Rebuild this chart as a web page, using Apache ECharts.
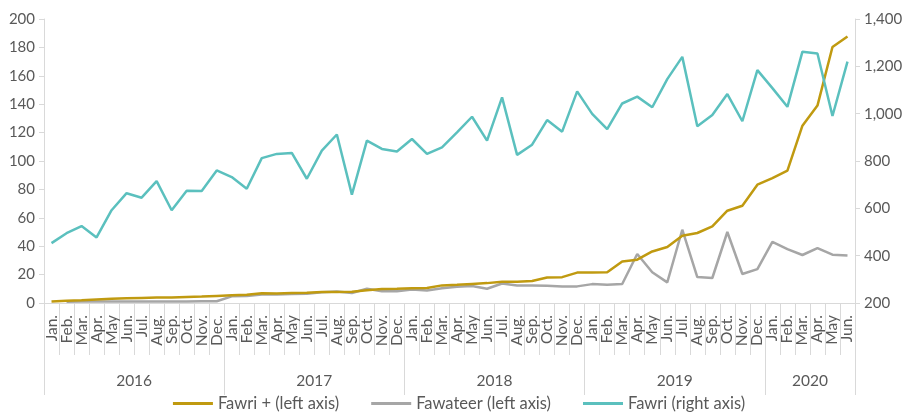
<!DOCTYPE html>
<html>
<head>
<meta charset="utf-8">
<script src="https://cdn.jsdelivr.net/npm/echarts@6/dist/echarts.min.js"></script>
<style>
  html, body { margin: 0; padding: 0; background: #fff; }
  #chart { width: 918px; height: 417px; }
</style>
</head>
<body>
<div id="chart"></div>
<script>
// months Jan 2016 .. Jun 2020
const monthNames = ['Jan.', 'Feb.', 'Mar.', 'Apr.', 'May', 'Jun.', 'Jul.', 'Aug.', 'Sep.', 'Oct.', 'Nov.', 'Dec.'];
const years = ['2016', '2017', '2018', '2019', '2020'];
const months = [];
for (let y = 0; y < years.length; y++) {
    const n = y === years.length - 1 ? 6 : 12;
    for (let m = 0; m < n; m++) months.push(monthNames[m]);
}

// Fawri + (left axis)
const fawriPlus = [
    1.0, 1.6, 2.0, 2.5, 3.0, 3.3, 3.6, 3.9, 3.8, 4.2, 4.5, 5.0,
    5.5, 5.8, 6.8, 6.7, 7.0, 7.3, 7.7, 7.8, 8.0, 9.0, 9.8, 10.0,
    10.3, 10.5, 12.4, 12.8, 13.4, 14.0, 15.0, 15.0, 15.5, 18.0, 18.2, 21.4,
    21.5, 21.6, 29.3, 30.5, 36.3, 39.4, 47.4, 49.3, 54.0, 65.0, 68.5, 83.3,
    88.0, 93.2, 124.9, 139.0, 180.3, 187.7
];

// Fawateer (left axis), starts Feb 2016
const fawateer = [
    null, 0.9, 1.0, 1.0, 1.0, 1.0, 1.0, 1.0, 1.0, 1.1, 1.2, 1.2,
    4.7, 5.0, 6.0, 6.0, 6.3, 6.5, 7.6, 8.1, 7.0, 10.0, 8.3, 8.3,
    9.5, 8.8, 10.4, 11.4, 11.9, 10.0, 13.7, 12.4, 12.4, 12.2, 11.7, 11.7,
    13.3, 12.9, 13.4, 34.5, 21.6, 14.5, 51.6, 18.3, 17.6, 50.0, 20.4, 23.9,
    43.0, 38.0, 33.8, 38.7, 34.0, 33.5
];

// Fawri (right axis)
const fawri = [
    453, 495, 525, 477, 592, 664, 645, 715, 592, 674, 673, 760,
    732, 683, 812, 830, 834, 725, 844, 912, 658, 886, 851, 840,
    893, 830, 858, 921, 987, 886, 1069, 826, 869, 973, 924, 1094,
    999, 935, 1043, 1072, 1027, 1146, 1240, 947, 994, 1083, 968, 1184,
    1108, 1029, 1262, 1254, 990, 1220
];

// year label sits on the middle month of each year block
const yearLabelIndex = { 6: '2016', 18: '2017', 30: '2018', 42: '2019', 51: '2020' };

const textColor = '#595959';
const lineColor = '#D9D9D9';
const font = 'Lato';

let myChart = echarts.init(document.getElementById('chart'));
let option = {
    backgroundColor: '#fff',
    animation: false,
    textStyle: { fontFamily: font },
    grid: { left: 44, right: 63, top: 19, bottom: 114, containLabel: false },
    legend: {
        bottom: 0,
        left: 'center',
        itemGap: 32,
        itemWidth: 40,
        itemHeight: 3,
        icon: 'rect',
        textStyle: { color: textColor, fontSize: 16.5, fontFamily: font },
        data: ['Fawri + (left axis)', 'Fawateer (left axis)', 'Fawri (right axis)']
    },
    xAxis: [{
        type: 'category',
        data: months,
        boundaryGap: true,
        axisLine: { lineStyle: { color: lineColor } },
        axisTick: { show: true, interval: 0, length: 52, lineStyle: { color: lineColor } },
        axisLabel: { interval: 0, rotate: 90, margin: 12, color: textColor, fontSize: 15.5, fontFamily: font }
    }, {
        type: 'category',
        data: months,
        position: 'bottom',
        boundaryGap: true,
        axisLine: { show: false },
        axisTick: {
            show: true,
            length: 92,
            interval: function (i) { return i % 12 === 0 || i === months.length; },
            lineStyle: { color: lineColor }
        },
        axisLabel: {
            interval: function (i) { return yearLabelIndex[i] !== undefined; },
            margin: 70,
            color: textColor,
            fontSize: 15.5,
            fontFamily: font,
            formatter: function (v, i) { return '{y|' + (yearLabelIndex[i] || '') + '}'; },
            rich: { y: { padding: [0, 15, 0, 0], color: textColor, fontSize: 15.5, fontFamily: font } }
        }
    }],
    yAxis: [{
        type: 'value',
        min: 0,
        max: 200,
        interval: 20,
        axisLine: { show: true, lineStyle: { color: lineColor } },
        axisTick: { show: true, length: 5, lineStyle: { color: lineColor } },
        splitLine: { show: false },
        axisLabel: { color: textColor, fontSize: 15, fontFamily: font, margin: 9 }
    }, {
        type: 'value',
        min: 200,
        max: 1400,
        interval: 200,
        position: 'right',
        axisLine: { show: true, lineStyle: { color: lineColor } },
        axisTick: { show: true, length: 5, lineStyle: { color: lineColor } },
        splitLine: { show: false },
        axisLabel: {
            color: textColor, fontSize: 15, fontFamily: font, margin: 9,
            formatter: function (v) { return v.toLocaleString('en-US'); }
        }
    }],
    series: [{
        name: 'Fawri + (left axis)',
        type: 'line',
        yAxisIndex: 0,
        data: fawriPlus,
        symbol: 'none',
        z: 3,
        lineStyle: { color: '#C09A10', width: 2.5 },
        itemStyle: { color: '#C09A10' }
    }, {
        name: 'Fawateer (left axis)',
        type: 'line',
        yAxisIndex: 0,
        data: fawateer,
        symbol: 'none',
        z: 2,
        lineStyle: { color: '#A6A6A6', width: 2.5 },
        itemStyle: { color: '#A6A6A6' }
    }, {
        name: 'Fawri (right axis)',
        type: 'line',
        yAxisIndex: 1,
        data: fawri,
        symbol: 'none',
        z: 4,
        lineStyle: { color: '#5BC0BE', width: 2.5 },
        itemStyle: { color: '#5BC0BE' }
    }]
};
myChart.setOption(option);
</script>
</body>
</html>
